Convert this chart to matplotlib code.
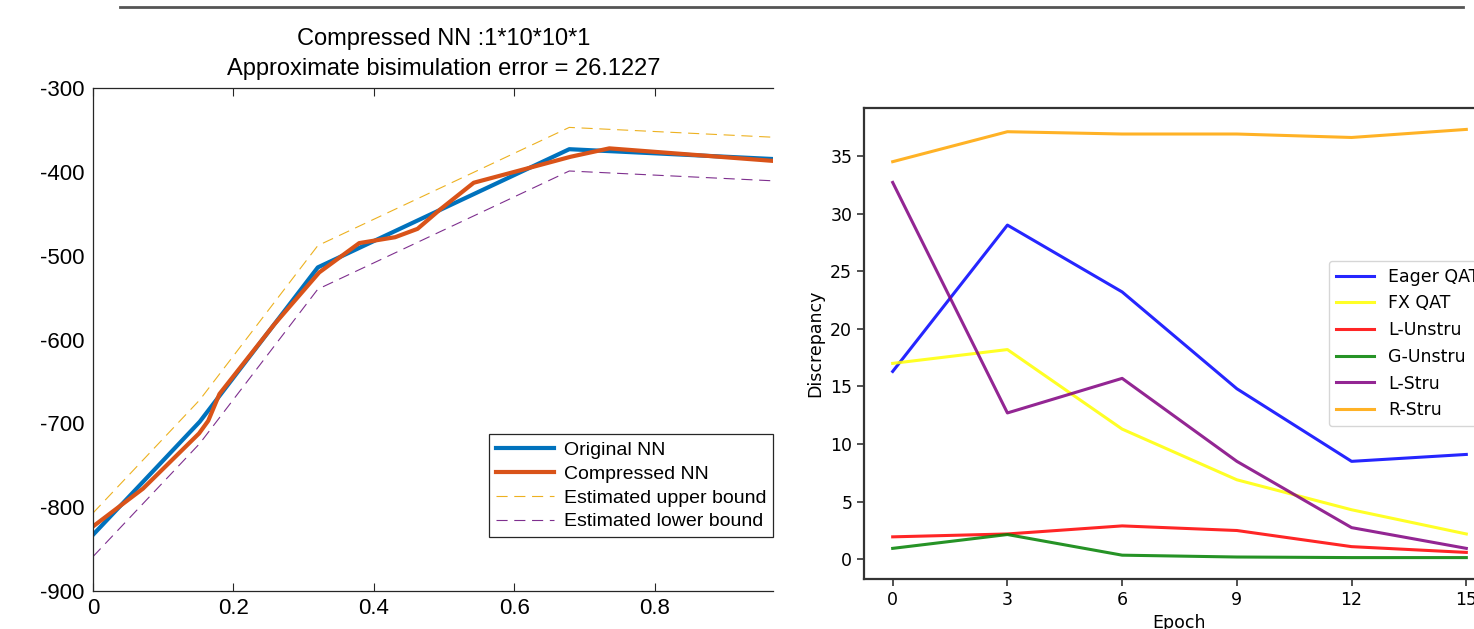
import numpy as np
import matplotlib.pyplot as plt
from matplotlib.lines import Line2D

plt.rcParams['axes.unicode_minus'] = False

# left panel: original vs compressed network output
x_orig = [0, 0.152, 0.32, 0.678, 1.0]
y_orig = [-833, -698, -514, -373, -386]

x_comp = [0, 0.071, 0.151, 0.164, 0.18, 0.258, 0.322, 0.379, 0.43, 0.462,
          0.494, 0.542, 0.609, 0.68, 0.735, 1.0]
y_comp = [-823, -778, -712, -697, -665, -582, -520, -485, -478, -468,
          -445, -413, -398, -382, -372, -389]

y_upper = [-807, -672, -488, -347, -360]
y_lower = [-859, -724, -540, -399, -412]

# right panel: discrepancy per epoch
epochs = [0, 3, 6, 9, 12, 15]
eager_qat = [16.3, 29.0, 23.2, 14.8, 8.5, 9.1]
fx_qat = [17.0, 18.2, 11.3, 6.9, 4.3, 2.2]
l_unstru = [1.95, 2.2, 2.9, 2.5, 1.1, 0.6]
g_unstru = [0.95, 2.15, 0.36, 0.2, 0.15, 0.15]
l_stru = [32.7, 12.7, 15.7, 8.5, 2.75, 0.95]
r_stru = [34.5, 37.1, 36.9, 36.9, 36.6, 37.3]

W, H = 1474, 629
fig = plt.figure(figsize=(W / 100, H / 100), dpi=100)

# rule across the top
fig.add_artist(Line2D([120 / W, 1463 / W], [1 - 7 / H, 1 - 7 / H],
                      color='#555555', lw=2))

# ---- left (MATLAB style) ----
ax1 = fig.add_axes([93 / W, 1 - 591 / H, (773 - 93) / W, (591 - 88) / H])
ax1.plot(x_orig, y_orig, color='#0072BD', lw=3, label='Original NN')
ax1.plot(x_comp, y_comp, color='#D95319', lw=3, label='Compressed NN')
ax1.plot(x_orig, y_upper, color='#EDB120', lw=0.8, dashes=(10, 6),
         label='Estimated upper bound')
ax1.plot(x_orig, y_lower, color='#7E2F8E', lw=0.8, dashes=(10, 6),
         label='Estimated lower bound')
ax1.set_xlim(0, 0.968)
ax1.set_ylim(-900, -300)
ax1.set_xticks([0, 0.2, 0.4, 0.6, 0.8])
ax1.set_xticklabels(['0', '0.2', '0.4', '0.6', '0.8'])
ax1.set_yticks(np.arange(-900, -299, 100))
for s in ax1.spines.values():
    s.set_color('#262626')
    s.set_linewidth(0.9)
ax1.spines['right'].set_visible(False)
ax1.tick_params(axis='x', direction='in', length=6, top=True, color='#262626',
                labelsize=16, pad=5)
ax1.tick_params(axis='y', length=0, labelsize=16, pad=6)
for lab in ax1.get_xticklabels() + ax1.get_yticklabels():
    lab.set_family('Liberation Sans')
ax1.set_title('Compressed NN :1*10*10*1\nApproximate bisimulation error = 26.1227',
              family='Liberation Sans', fontsize=17, linespacing=1.5,
              x=(444 - 93) / (773 - 93), pad=9)
leg1 = ax1.legend(loc='lower right', bbox_to_anchor=(1.0, 0.107),
                  borderaxespad=0, fancybox=False, handlelength=3.0,
                  prop={'family': 'Liberation Sans', 'size': 14},
                  labelspacing=0.32, borderpad=0.35, handletextpad=0.5)
leg1.get_frame().set_edgecolor('#262626')
leg1.get_frame().set_linewidth(0.9)
leg1.get_frame().set_alpha(1)

# ---- right (matplotlib style, cropped) ----
ax2 = fig.add_axes([864 / W, 1 - 579 / H, (1495 - 864) / W, (579 - 108) / H])
ax2.plot(epochs, eager_qat, color='blue', lw=2.2, label='Eager QAT', alpha=0.85)
ax2.plot(epochs, fx_qat, color='yellow', lw=2.2, label='FX QAT', alpha=0.85)
ax2.plot(epochs, l_unstru, color='red', lw=2.2, label='L-Unstru', alpha=0.85)
ax2.plot(epochs, g_unstru, color='green', lw=2.2, label='G-Unstru', alpha=0.85)
ax2.plot(epochs, l_stru, color='purple', lw=2.2, label='L-Stru', alpha=0.85)
ax2.plot(epochs, r_stru, color='orange', lw=2.2, label='R-Stru', alpha=0.85)
ax2.set_xticks(epochs)
ax2.set_yticks(np.arange(0, 36, 5))
ax2.tick_params(labelsize=12.5, length=5, width=1.2, color='#333333')
for s in ax2.spines.values():
    s.set_color('#333333')
    s.set_linewidth(1.6)
ax2.set_xlabel('Epoch', fontsize=12.5)
ax2.set_ylabel('Discrepancy', fontsize=12.5)
ax2.legend(loc='center right', fontsize=12.5, handlelength=2.2)

fig.savefig('out.png', dpi=100)
